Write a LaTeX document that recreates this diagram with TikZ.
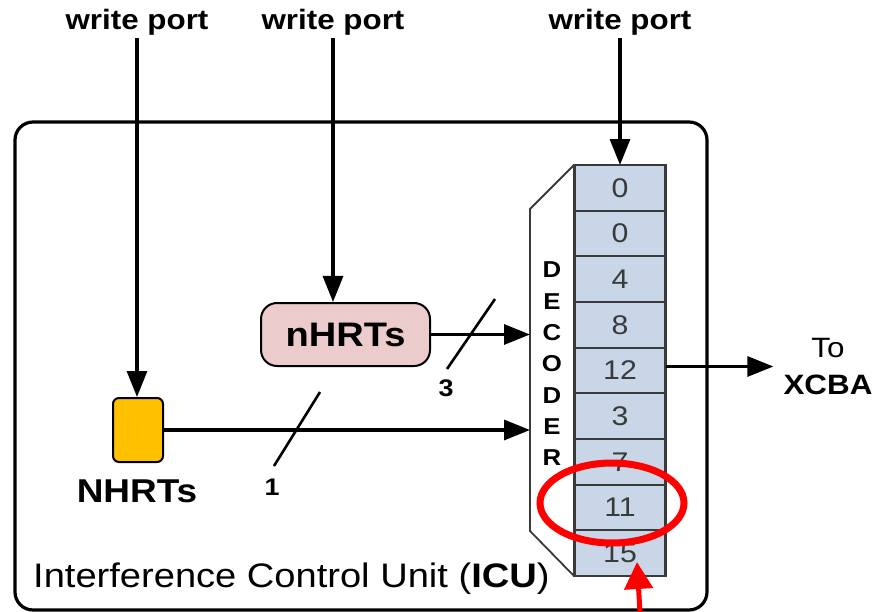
\documentclass[tikz,border=0pt]{standalone}
\usepackage{fontspec}
\setmainfont{Liberation Sans}[FakeStretch=1.12]
\usepackage{xcolor}
\usetikzlibrary{arrows.meta}
\definecolor{nhrtorange}{HTML}{FFC000}
\definecolor{nhrtpink}{HTML}{EBCBCB}
\definecolor{regblue}{HTML}{C8D6E7}
\definecolor{reggray}{HTML}{3A3A3A}

\begin{document}
\begin{tikzpicture}[x=1pt,y=-1pt,
    wire/.style={line width=3.2pt,-{Triangle[length=26pt,width=20pt]}},
    port/.style={font=\fontsize{28}{32}\selectfont\bfseries,inner sep=3pt},
    regcell/.style={draw=reggray,line width=2.2pt,fill=regblue,minimum width=91pt,
      minimum height=45.67pt,inner sep=0pt,outer sep=0pt,
      font=\fontsize{27}{30}\selectfont,text=reggray}]
  \useasboundingbox (0,0) rectangle (875,612);
  \draw[line width=3.2pt,rounded corners=18pt] (15,122) rectangle (707,610);
  \node[anchor=base west,inner sep=0pt,font=\fontsize{34}{40}\selectfont] (icu)
    at (33,587) {Interference Control Unit (\textbf{ICU})};

  \draw[line width=1.8pt,draw=reggray,fill=white] (574,165) -- (530,209) -- (530,531) -- (574,576);
  \foreach \l [count=\i] in {D,E,C,O,D,E,R}
    \node[font=\fontsize{23}{26}\selectfont\bfseries,inner sep=0pt] (dec\i) at (552,{238.7+31.3*\i}) {\l};
  \coordinate (decin1) at (530,334.5);
  \coordinate (decin2) at (530,430);
  \foreach \v [count=\i] in {0,0,4,8,12,3,7,11,15}
    \node[regcell] (cell\i) at (620,{142.17+45.67*\i}) {\v};

  \node[port] (wp1) at (137,22) {write port};
  \node[port] (wp2) at (333,22) {write port};
  \node[port] (wp3) at (620,22) {write port};

  \node[draw,line width=2pt,fill=nhrtorange,rounded corners=6pt,
    minimum width=50pt,minimum height=64pt] (NHRT) at (138,430) {};
  \node[font=\fontsize{33}{38}\selectfont\bfseries] (NHRTlabel) at (137,491) {NHRTs};
  \node[draw,line width=2pt,fill=nhrtpink,rounded corners=16pt,minimum width=169pt,
    minimum height=63pt,font=\fontsize{34}{38}\selectfont\bfseries] (nHRT) at (345.5,334.5) {nHRTs};
  \node[align=center,inner xsep=10pt,font=\fontsize{28}{37}\selectfont] (xcba)
    at (828,366.5) {To\\\textbf{XCBA}};

  \draw[wire] (wp1.south) -- (wp1.south |- NHRT.north);
  \draw[wire] (wp2.south) -- (wp2.south |- nHRT.north);
  \draw[wire] (wp3.south) -- (wp3.south |- cell1.north);
  \draw[wire] (nHRT.east) -- (decin1);
  \draw[wire] (NHRT.east) -- (decin2);
  \draw[wire] (xcba.west -| cell5.east) -- (xcba.west);

  \draw[line width=2.6pt] (495,299) -- (447,369);
  \node[font=\fontsize{24}{28}\selectfont\bfseries] (bits3) at (446,388) {3};
  \draw[line width=2.6pt] (320,392) -- (274,466);
  \node[font=\fontsize{24}{28}\selectfont\bfseries] (bits1) at (272,487) {1};

  \draw[red,line width=7pt] (612,503) ellipse [x radius=72,y radius=40];
  \coordinate (marktail) at (640,612);
  \coordinate (marktip) at (637,562);
  \draw[red,line width=5pt,-{Triangle[length=27pt,width=28pt]}] (marktail) -- (marktip);
\end{tikzpicture}
\end{document}
